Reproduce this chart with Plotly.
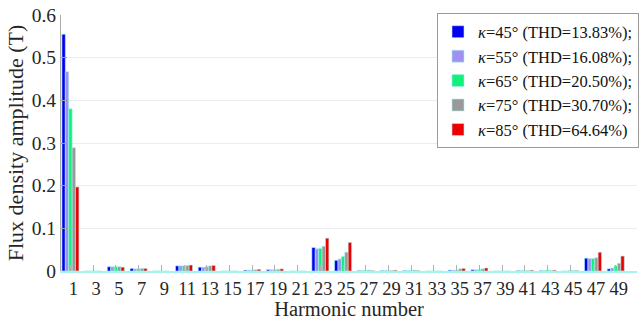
import plotly.graph_objects as go

# Harmonic orders (odd harmonics 1..49)
harmonics = list(range(1, 50, 2))

# Flux density amplitude (T) of each harmonic for the five kappa angles
b_k45 = [0.555, 0, 0.010, 0.006, 0, 0.012, 0.009, 0, 0.002, 0.003, 0, 0.055, 0.025,
         0.001, 0.001, 0.001, 0, 0.002, 0.003, 0, 0.001, 0.001, 0, 0.030, 0.005]
b_k55 = [0.467, 0, 0.010, 0.005, 0, 0.012, 0.009, 0, 0.002, 0.003, 0, 0.052, 0.028,
         0.001, 0.001, 0.001, 0, 0.002, 0.003, 0, 0.001, 0.001, 0, 0.029, 0.007]
b_k65 = [0.380, 0, 0.010, 0.005, 0, 0.012, 0.010, 0, 0.002, 0.003, 0, 0.053, 0.034,
         0.001, 0.001, 0.001, 0, 0.002, 0.003, 0, 0.001, 0.002, 0.001, 0.029, 0.012]
b_k75 = [0.289, 0, 0.010, 0.006, 0, 0.013, 0.012, 0, 0.003, 0.004, 0, 0.058, 0.044,
         0.002, 0.001, 0.002, 0, 0.005, 0.005, 0, 0.001, 0.001, 0.001, 0.031, 0.018]
b_k85 = [0.197, 0, 0.009, 0.006, 0, 0.014, 0.013, 0, 0.004, 0.005, 0, 0.077, 0.067,
         0.001, 0.002, 0.001, 0, 0.006, 0.007, 0, 0.002, 0.002, 0.001, 0.044, 0.035]

series_names = [
    "<i>κ</i>=45° (THD=13.83%);",
    "<i>κ</i>=55° (THD=16.08%);",
    "<i>κ</i>=65° (THD=20.50%);",
    "<i>κ</i>=75° (THD=30.70%);",
    "<i>κ</i>=85° (THD=64.64%)",
]
series_values = [b_k45, b_k55, b_k65, b_k75, b_k85]
series_colors = ["#0000f0", "#9f90f2", "#10f07a", "#999999", "#ee0000"]

y_ticks = [0, 0.1, 0.2, 0.3, 0.4, 0.5, 0.6]

FONT = "Times New Roman"

fig = go.Figure()
for name, vals, col in zip(series_names, series_values, series_colors):
    fig.add_trace(go.Bar(
        x=harmonics, y=vals, name=name,
        marker=dict(color=col, line=dict(color="#a8f2ee", width=0.6)),
    ))

fig.update_layout(
    width=639, height=320,
    margin=dict(l=61, r=0, t=15, b=49),
    paper_bgcolor="white", plot_bgcolor="white",
    barmode="group", bargap=0.25, bargroupgap=0,
    font=dict(family=FONT, color="#262626"),
    legend=dict(
        x=1.004, xanchor="right", y=1.006, yanchor="top",
        bgcolor="white", bordercolor="#9a9a9a", borderwidth=1,
        font=dict(family=FONT, size=16.5, color="#111111"),
        tracegroupgap=0, itemwidth=30,
    ),
    showlegend=True,
)

fig.update_xaxes(
    range=[0.17, 50.87],
    tickmode="array", tickvals=harmonics,
    ticktext=[str(h) for h in harmonics],
    ticks="inside", ticklen=6, tickcolor="#b0b0b0", tickwidth=1,
    ticklabelshift=3,
    showline=True, linecolor="#a8f2ee", linewidth=1.5,
    showgrid=False, zeroline=False, automargin=False,
    tickfont=dict(family=FONT, size=18.5, color="#262626"),
    title=dict(text="Harmonic number", font=dict(family=FONT, size=20.5, color="#262626"),
               standoff=16),
)

fig.update_yaxes(
    range=[0, 0.6],
    tickmode="array", tickvals=y_ticks,
    ticktext=["0" if v == 0 else f"{v:.1f}" for v in y_ticks],
    ticks="inside", ticklen=6, tickcolor="#a0a0a0",
    showline=True, linecolor="#aaaaaa", linewidth=1,
    showgrid=True, gridcolor="#ececec", gridwidth=1,
    zeroline=False, automargin=False,
    tickfont=dict(family=FONT, size=19.5, color="#262626"),
    title=dict(text="Flux density amplitude (T)",
               font=dict(family=FONT, size=22, color="#262626"), standoff=2),
)

fig.write_html("out.html")
